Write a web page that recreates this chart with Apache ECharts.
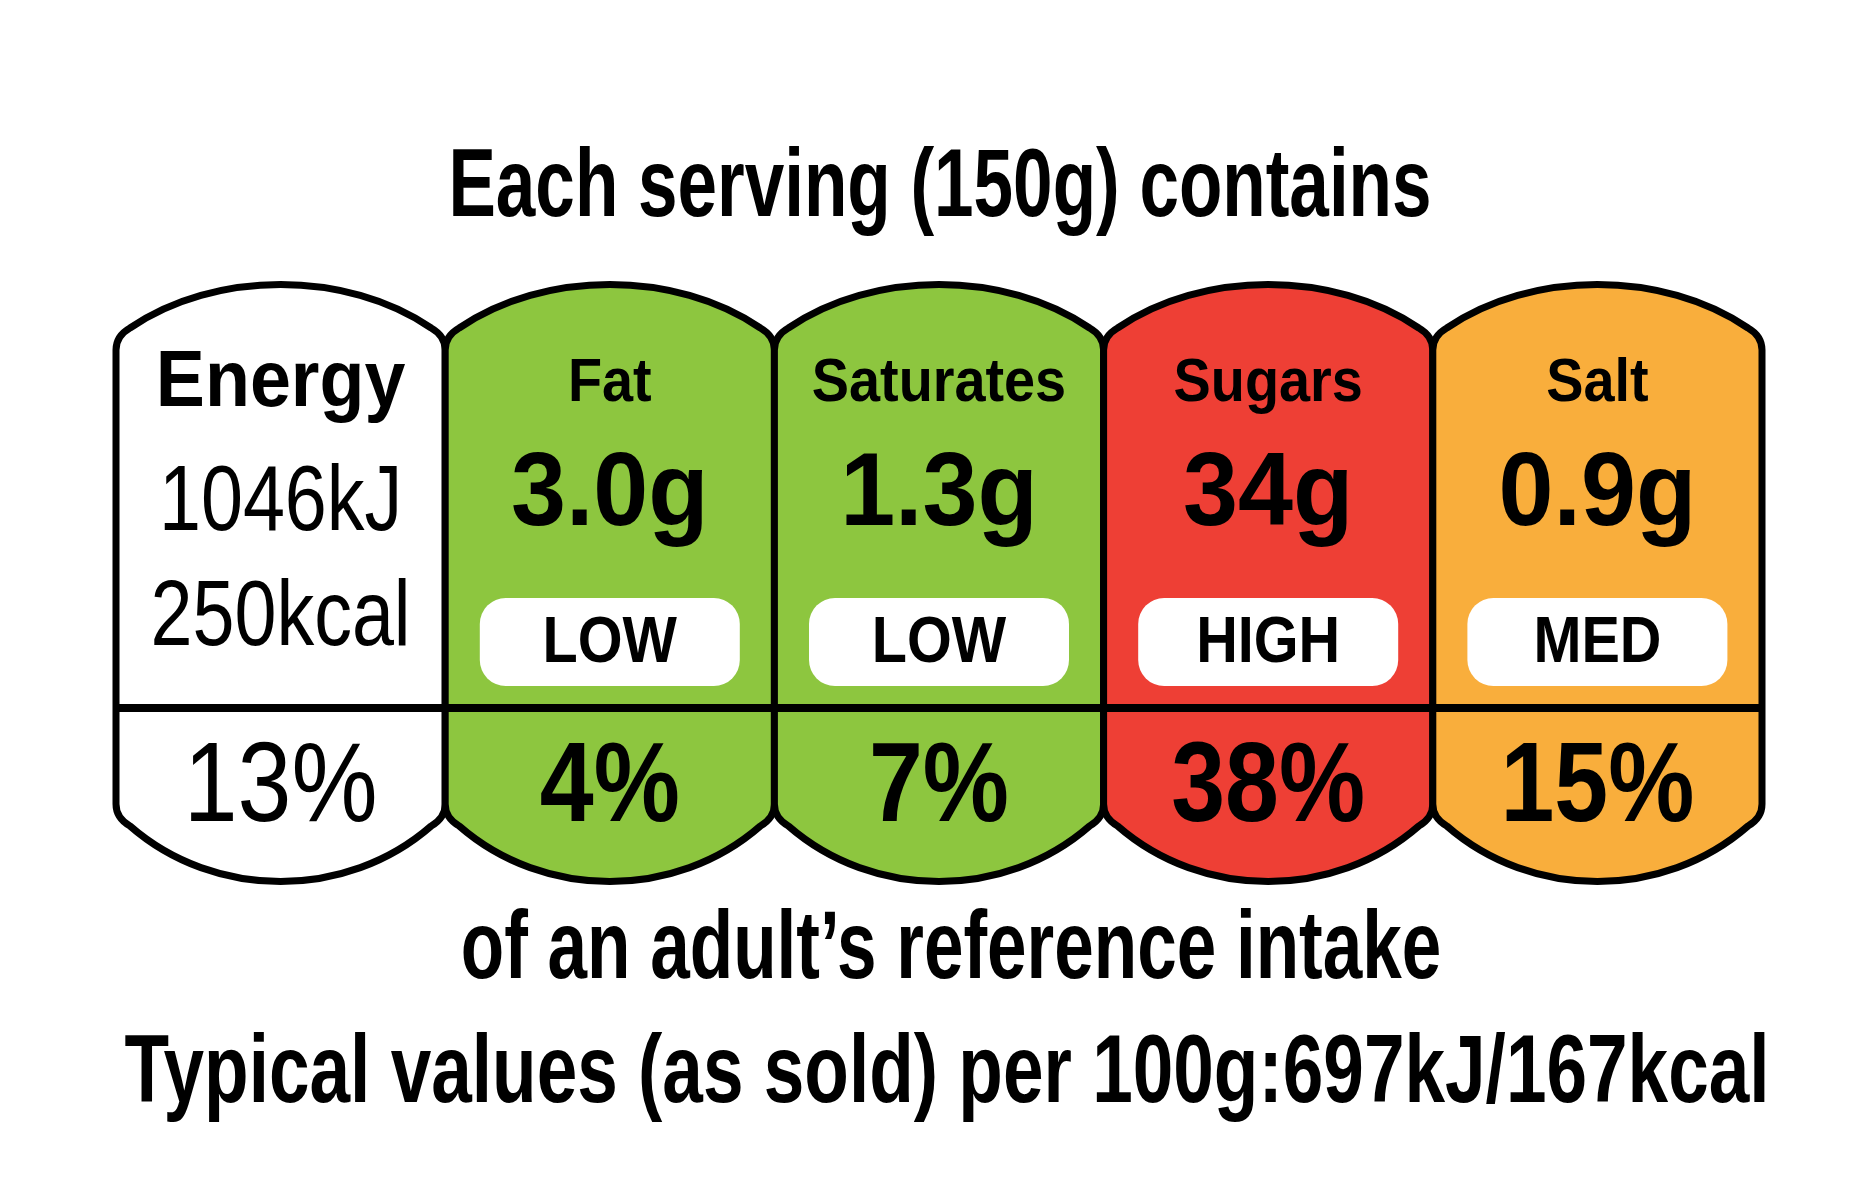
<!DOCTYPE html>
<html>
<head>
<meta charset="utf-8">
<script src="https://cdn.jsdelivr.net/npm/echarts@6/dist/echarts.min.js"></script>
<style>html,body{margin:0;padding:0;background:#fff}#chart{width:1860px;height:1200px}</style>
</head>
<body>
<div id="chart"></div>
<script>
var nutrients = ['Energy', 'Fat', 'Saturates', 'Sugars', 'Salt'];
var amounts = ['1046kJ\n250kcal', '3.0g', '1.3g', '34g', '0.9g'];
var levels = ['', 'LOW', 'LOW', 'HIGH', 'MED'];
var percents = [13, 4, 7, 38, 15];
var fills = ['#ffffff', '#8dc63f', '#8dc63f', '#ee3f35', '#f9ae3c'];
var heading = 'Each serving (150g) contains';
var footer1 = 'of an adult\u2019s reference intake';
var footer2 = 'Typical values (as sold) per 100g:697kJ/167kcal';

var chart = echarts.init(document.getElementById('chart'));

var apex = 280, shoulder = 336, divider = 708, bShoulder = 818, bApex = 890;
var sans = '"Liberation Sans", Arial, sans-serif';

// text squeezed horizontally to mimic a condensed face
function label(text, x, y, font, sx, extra) {
    var style = { text: text, x: x, y: y, align: 'center', verticalAlign: 'middle', font: font, fill: '#000' };
    if (extra) { for (var k in extra) style[k] = extra[k]; }
    return { type: 'text', originX: x, originY: y, scaleX: sx, style: style };
}

function renderPanel(params, api) {
    var i = api.value(0);
    var c = api.coord([i, 0]);
    var w = api.size([1, 0])[0];
    var x0 = c[0] - w / 2, x1 = c[0] + w / 2;
    var r = 14;
    var path = 'M' + x0 + ',' + (shoulder + r) +
        ' Q' + x0 + ',' + shoulder + ' ' + (x0 + r) + ',' + (shoulder - 8) +
        ' C' + (x0 + w * 0.3) + ',' + (apex - 10) + ' ' + (x1 - w * 0.3) + ',' + (apex - 10) + ' ' + (x1 - r) + ',' + (shoulder - 8) +
        ' Q' + x1 + ',' + shoulder + ' ' + x1 + ',' + (shoulder + r) +
        ' L' + x1 + ',' + (bShoulder - r) +
        ' Q' + x1 + ',' + bShoulder + ' ' + (x1 - r) + ',' + (bShoulder + 8) +
        ' C' + (x1 - w * 0.3) + ',' + (bApex + 10) + ' ' + (x0 + w * 0.3) + ',' + (bApex + 10) + ' ' + (x0 + r) + ',' + (bShoulder + 8) +
        ' Q' + x0 + ',' + bShoulder + ' ' + x0 + ',' + (bShoulder - r) + ' Z';
    var children = [{
        type: 'path',
        shape: { pathData: path },
        style: { fill: fills[i], stroke: '#000', lineWidth: 7, lineJoin: 'round' }
    }, {
        type: 'line',
        shape: { x1: x0, y1: divider, x2: x1, y2: divider },
        style: { stroke: '#000', lineWidth: 8 }
    }];
    var isEnergy = i === 0;
    children.push(label(nutrients[i], c[0], 384, 'bold ' + (isEnergy ? 80 : 62) + 'px ' + sans, isEnergy ? 0.92 : 0.9));
    if (isEnergy) {
        children.push(label(amounts[i], c[0], 562, '92px ' + sans, 0.82, { lineHeight: 115 }));
    } else {
        children.push(label(amounts[i], c[0], 496, 'bold 104px ' + sans, 0.95));
        children.push({
            type: 'rect',
            shape: { x: c[0] - 130, y: 598, width: 260, height: 88, r: 26 },
            style: { fill: '#fff' }
        });
        children.push(label(levels[i], c[0], 644, 'bold 64px ' + sans, 0.9));
    }
    children.push(label(percents[i] + '%', c[0], 790, (isEnergy ? '' : 'bold ') + '114px ' + sans, 0.85));
    return { type: 'group', children: children };
}

var option = {
    backgroundColor: '#fff',
    animation: false,
    grid: { left: 116, right: 98, top: 250, bottom: 300 },
    xAxis: { type: 'category', data: nutrients, show: false },
    yAxis: { type: 'value', min: 0, max: 1, show: false },
    graphic: [
        label(heading, 940, 190, 'bold 96px ' + sans, 0.74),
        label(footer1, 951, 952, 'bold 96px ' + sans, 0.74),
        label(footer2, 947, 1076, 'bold 96px ' + sans, 0.76)
    ],
    series: [{
        type: 'custom',
        renderItem: renderPanel,
        data: nutrients.map(function (n, i) { return [i, percents[i]]; })
    }]
};
chart.setOption(option);
</script>
</body>
</html>
